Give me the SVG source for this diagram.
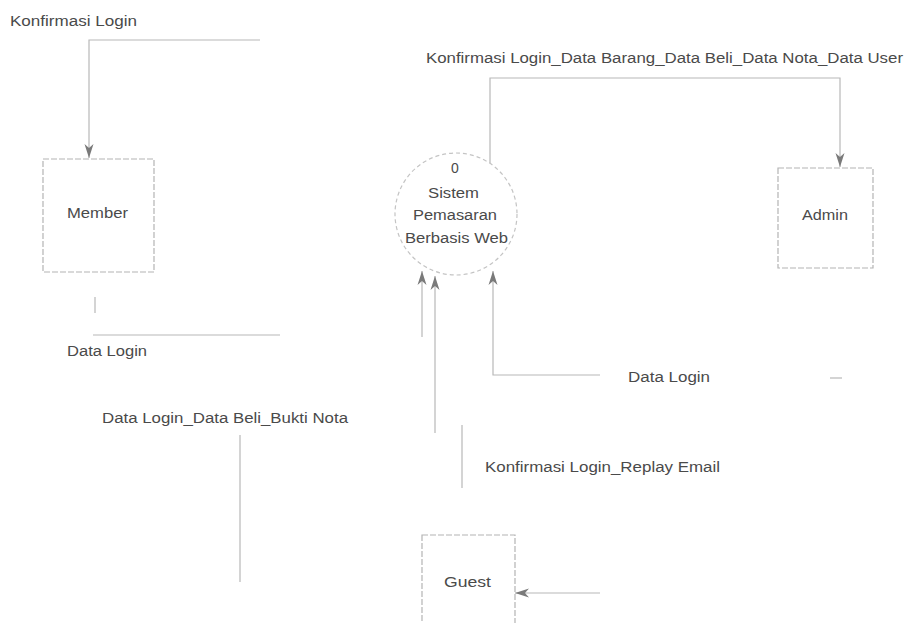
<svg xmlns="http://www.w3.org/2000/svg" width="906" height="623" viewBox="0 0 906 623">
<style>
text{font-family:"Liberation Sans",Arial,sans-serif;font-size:14px;fill:#4a4a4a}
.c{text-anchor:middle}
.box{fill:none;stroke:#b4b4b4;stroke-width:1.2;stroke-dasharray:6 2}
.ln{fill:none;stroke:#b8b8b8;stroke-width:1.2}
</style>
<defs>
<marker id="ah" viewBox="0 0 14 10" refX="14" refY="5" markerWidth="14" markerHeight="10" orient="auto" markerUnits="userSpaceOnUse">
<path d="M0,0.5 L14,5 L0,9.5 L4,5 Z" fill="#7a7a7a"/>
</marker>
</defs>
<rect width="906" height="623" fill="#fff"/>
<g id="connectors">
<path class="ln" d="M260,40 H89 V158" marker-end="url(#ah)"/>
<path class="ln" d="M95,297 V313 M93,335 H280"/>
<path class="ln" d="M490,163 V78 H840 V167" marker-end="url(#ah)"/>
<path class="ln" d="M422,337 V271" marker-end="url(#ah)"/>
<path class="ln" d="M435,433 V276" marker-end="url(#ah)"/>
<path class="ln" d="M600,375 H493 V271" marker-end="url(#ah)"/>
<path class="ln" d="M830,378 H842"/>
<path class="ln" d="M240,435 V582"/>
<path class="ln" d="M462,425 V488"/>
<path class="ln" d="M600,593 H515" marker-end="url(#ah)"/>
</g>
<g id="labels">
<text x="10" y="26" textLength="127" lengthAdjust="spacingAndGlyphs">Konfirmasi Login</text>
<text x="426" y="63" textLength="477" lengthAdjust="spacingAndGlyphs">Konfirmasi Login_Data Barang_Data Beli_Data Nota_Data User</text>
<text x="67" y="356" textLength="80" lengthAdjust="spacingAndGlyphs">Data Login</text>
<text x="628" y="382" textLength="82" lengthAdjust="spacingAndGlyphs">Data Login</text>
<text x="102" y="423" textLength="246" lengthAdjust="spacingAndGlyphs">Data Login_Data Beli_Bukti Nota</text>
<text x="485" y="472" textLength="235" lengthAdjust="spacingAndGlyphs">Konfirmasi Login_Replay Email</text>
</g>
<g id="member">
<rect class="box" x="43" y="159" width="111" height="113"/>
<text x="67" y="218" textLength="61" lengthAdjust="spacingAndGlyphs">Member</text>
</g>
<g id="process0">
<circle cx="456" cy="214" r="61" fill="none" stroke="#c4c4c4" stroke-width="1.2" stroke-dasharray="4 3"/>
<text x="455" y="173" class="c">0</text>
<text x="428" y="198" textLength="51" lengthAdjust="spacingAndGlyphs">Sistem</text>
<text x="413" y="220" textLength="84" lengthAdjust="spacingAndGlyphs">Pemasaran</text>
<text x="405" y="243" textLength="103" lengthAdjust="spacingAndGlyphs">Berbasis Web</text>
</g>
<g id="admin">
<rect class="box" x="778" y="168" width="95" height="100"/>
<text x="802" y="220" textLength="46" lengthAdjust="spacingAndGlyphs">Admin</text>
</g>
<g id="guest">
<rect class="box" x="422" y="535" width="93" height="110"/>
<text x="444" y="587" textLength="47" lengthAdjust="spacingAndGlyphs">Guest</text>
</g>
</svg>
